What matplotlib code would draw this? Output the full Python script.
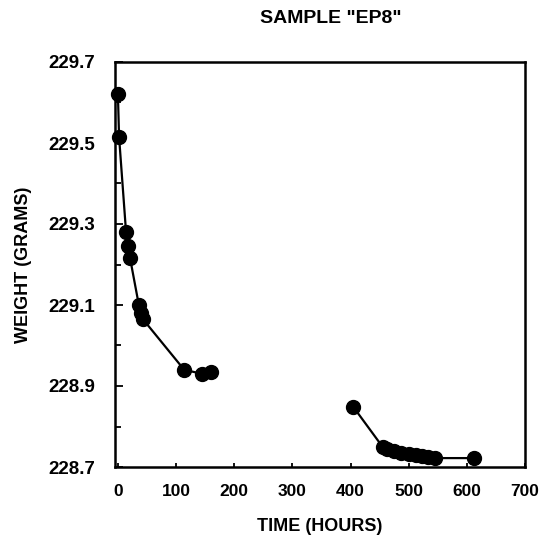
import matplotlib
matplotlib.use("Agg")
import matplotlib.pyplot as plt
from matplotlib.ticker import MultipleLocator, FixedLocator

# Weight-loss record for sample EP8 (two measurement periods)
hours_a = [0, 2, 14, 17, 21, 36, 40, 43, 114, 145, 160]
grams_a = [229.62, 229.515, 229.28, 229.245, 229.215, 229.10, 229.08, 229.065,
           228.94, 228.93, 228.935]

hours_b = [405, 455, 462, 475, 487, 500, 512, 523, 533, 545, 612]
grams_b = [228.848, 228.75, 228.745, 228.74, 228.735, 228.732, 228.73, 228.727,
           228.725, 228.722, 228.722]

x_ticks = [0, 100, 200, 300, 400, 500, 600, 700]
y_ticks = [228.7, 228.9, 229.1, 229.3, 229.5, 229.7]

plt.rcParams['font.family'] = ['Liberation Sans', 'DejaVu Sans']
plt.rcParams['font.weight'] = 'bold'

fig = plt.figure(figsize=(5.46, 5.40), dpi=100)
ax = fig.add_axes([115 / 546, 73 / 540, 410 / 546, 405 / 540])

for t, w in ((hours_a, grams_a), (hours_b, grams_b)):
    ax.plot(t, w, color='black', lw=1.6, marker='o', ms=10,
            markerfacecolor='black', markeredgecolor='black', clip_on=False)

ax.set_xlim(-5, 700)
ax.set_ylim(228.7, 229.7)
ax.xaxis.set_major_locator(FixedLocator(x_ticks))
ax.yaxis.set_major_locator(FixedLocator(y_ticks))
ax.yaxis.set_minor_locator(MultipleLocator(0.1))
ax.set_xticklabels([str(v) for v in x_ticks])
ax.set_yticklabels([f"{v:.1f}" for v in y_ticks])

ax.tick_params(axis='both', which='both', direction='in', width=1.3, colors='black')
ax.tick_params(axis='y', which='major', length=6, labelsize=13.5, pad=14)
ax.tick_params(axis='y', which='minor', length=4)
ax.tick_params(axis='x', which='major', length=3, labelsize=12.5, pad=12)

for s in ax.spines.values():
    s.set_linewidth(1.8)

ax.set_xlabel('TIME (HOURS)', fontsize=13, fontweight='bold', labelpad=14)
ax.set_ylabel('WEIGHT (GRAMS)', fontsize=13, fontweight='bold', labelpad=12)
fig.text(0.605, 0.965, 'SAMPLE "EP8"', ha='center', va='center',
         fontsize=14, fontweight='bold')

fig.savefig('out.png', dpi=100)
